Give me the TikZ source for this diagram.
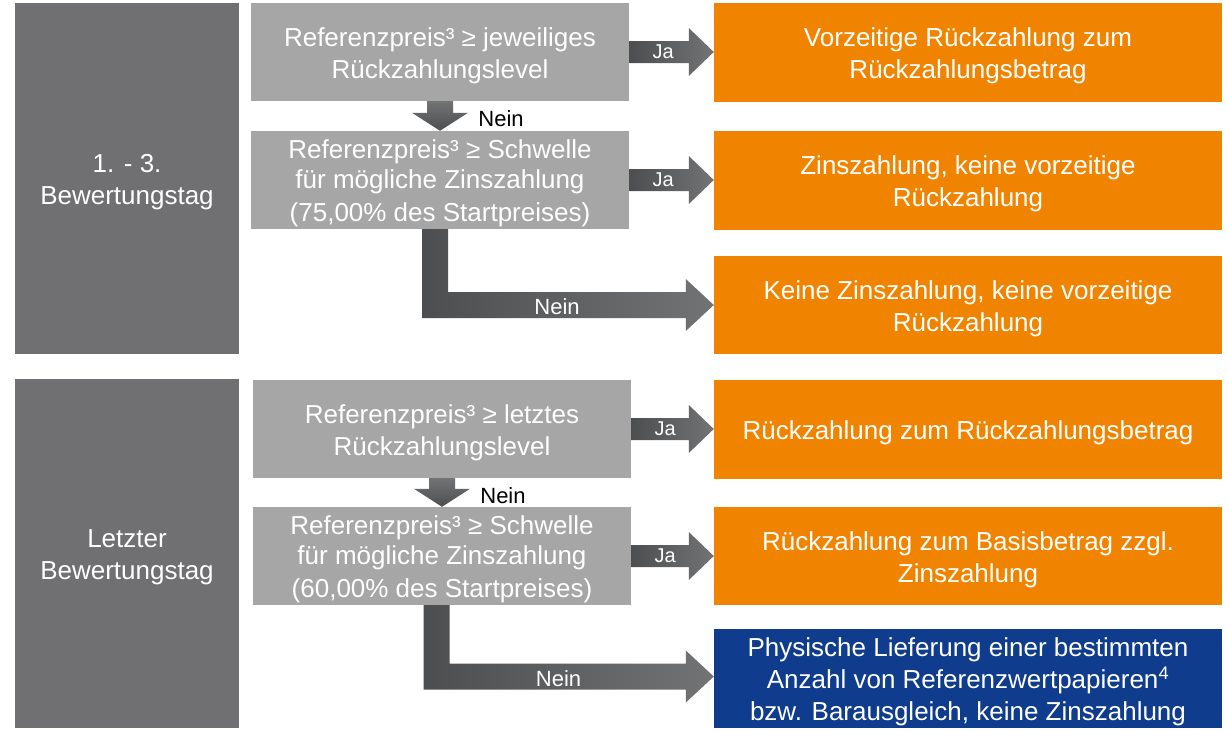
\documentclass[tikz,border=0pt]{standalone}
\usepackage{fontspec}
\setmainfont{Liberation Sans}
\usetikzlibrary{calc}
\definecolor{darkbox}{HTML}{707072}
\definecolor{lightbox}{HTML}{A6A6A6}
\definecolor{orangebox}{HTML}{F08300}
\definecolor{bluebox}{HTML}{0F3C8C}
\definecolor{arrowL}{HTML}{4D4E50}
\definecolor{arrowR}{HTML}{727375}
\newcommand\ls{\rule[-0.22em]{0pt}{1.23em}}
\tikzset{
  box/.style={rectangle, inner sep=0pt, align=center, text=white,
    font=\fontsize{26}{32}\selectfont},
  dbox/.style={box, fill=darkbox, minimum width=224pt},
  gbox/.style={box, fill=lightbox, minimum width=378pt, minimum height=98pt},
  obox/.style={box, fill=orangebox, minimum width=508pt, minimum height=99pt},
  bbox/.style={box, fill=bluebox, minimum width=508pt, minimum height=99pt},
  arrowfill/.style={left color=arrowL, right color=arrowR},
  downfill/.style={top color=arrowR, bottom color=arrowL},
  jalabel/.style={text=white, font=\fontsize{20}{22}\selectfont, inner sep=0pt},
  neinW/.style={text=white, font=\fontsize{22}{26}\selectfont, inner sep=0pt},
  neinB/.style={text=black, font=\fontsize{22}{26}\selectfont, inner sep=0pt},
}
\newcommand\jaArrow[2]{%
  \coordinate (s) at (#1.east);
  \coordinate (t) at (#2.west |- #1.east);
  \shade[arrowfill] ($(s)+(0,-11)$) -- ($(t)+(-25,-11)$) -- ($(t)+(-25,-24)$) -- (t)
    -- ($(t)+(-25,24)$) -- ($(t)+(-25,11)$) -- ($(s)+(0,11)$) -- cycle;
  \node[jalabel] at ($(s)+(34,0)$) {Ja};
}
\newcommand\neinDown[2]{%
  \coordinate (s) at (#1.south);
  \coordinate (t) at (#2.north);
  \shade[downfill] ($(s)+(-13,0)$) -- ($(t)+(-13,-18)$) -- ($(t)+(-28,-18)$) -- (t)
    -- ($(t)+(28,-18)$) -- ($(t)+(13,-18)$) -- ($(s)+(13,0)$) -- cycle;
  \node[neinB] at ($(s)+(61,17)$) {Nein};
}
\newcommand\neinL[4]{%
  \coordinate (s) at ($(#1.south)+(#3,0)$);
  \coordinate (t) at ($(#2.west)+(0,#4)$);
  \coordinate (c) at (s |- t);
  \shade[arrowfill] ($(s)+(-13,0)$) -- ($(c)+(-13,13)$) -- ($(t)+(-28,13)$) -- ($(t)+(-28,26)$) -- (t)
    -- ($(t)+(-28,-26)$) -- ($(t)+(-28,-13)$) -- ($(c)+(13,-13)$) -- ($(s)+(13,0)$) -- cycle;
  \node[neinW] at ($(c)+(122,2)$) {Nein};
}
\begin{document}
\begin{tikzpicture}[x=1pt, y=-1pt]
\useasboundingbox[fill=white] (0,0) rectangle (1228,731);

% left day boxes
\node[dbox, minimum height=351pt] (d1) at (127,178.5) {\ls 1. - 3.\\Bewertungstag\ls};
\node[dbox, minimum height=349pt] (d2) at (127,553.5) {\ls Letzter\\Bewertungstag\ls};

% condition boxes
\node[gbox] (g1) at (440,52) {\ls Referenzpreis³ ≥ jeweiliges\\Rückzahlungslevel\ls};
\node[gbox, font=\fontsize{26}{30}\selectfont] (g2) at (440,180) {\ls Referenzpreis³ ≥ Schwelle\\für mögliche Zinszahlung\\(75,00\% des Startpreises)\ls};
\node[gbox] (g3) at (442,429) {\ls Referenzpreis³ ≥ letztes\\Rückzahlungslevel\ls};
\node[gbox, font=\fontsize{26}{30}\selectfont] (g4) at (442,556) {\ls Referenzpreis³ ≥ Schwelle\\für mögliche Zinszahlung\\(60,00\% des Startpreises)\ls};

% outcome boxes
\node[obox] (o1) at (968,52.5) {\ls Vorzeitige Rückzahlung zum\\Rückzahlungsbetrag\ls};
\node[obox] (o2) at (968,180.5) {\ls Zinszahlung, keine vorzeitige\\Rückzahlung\ls};
\node[obox, minimum height=98pt] (o3) at (968,305) {\ls Keine Zinszahlung, keine vorzeitige\\Rückzahlung\ls};
\node[obox] (o4) at (968,429.5) {\ls Rückzahlung zum Rückzahlungsbetrag\ls};
\node[obox, minimum height=98pt] (o5) at (968,556) {\ls Rückzahlung zum Basisbetrag zzgl.\\Zinszahlung\ls};
\node[bbox, font=\fontsize{26}{31.5}\selectfont] (b1) at (968,678.5) {\ls Physische Lieferung einer bestimmten\\Anzahl von Referenzwertpapieren\textsuperscript{4}\\bzw. Barausgleich, keine Zinszahlung\ls};

% arrows
\jaArrow{g1}{o1}
\jaArrow{g2}{o2}
\jaArrow{g3}{o4}
\jaArrow{g4}{o5}
\neinDown{g1}{g2}
\neinDown{g3}{g4}
\neinL{g2}{o3}{-5}{0}
\neinL{g4}{b1}{-5.5}{-2}
\end{tikzpicture}
\end{document}
